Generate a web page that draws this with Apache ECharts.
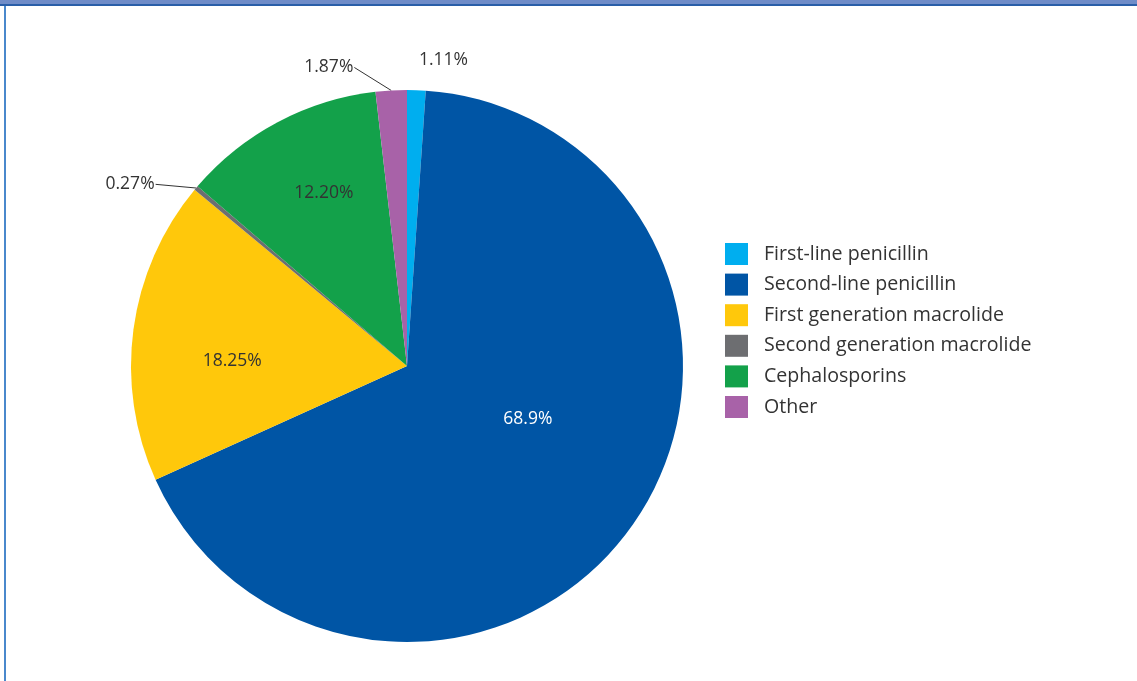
<!DOCTYPE html>
<html>
<head>
<meta charset="utf-8">
<script src="https://cdn.jsdelivr.net/npm/echarts@6/dist/echarts.min.js"></script>
<style>
  html, body { margin: 0; padding: 0; background: #ffffff; }
  #chart { width: 1137px; height: 681px; }
</style>
</head>
<body>
<div id="chart"></div>
<script>
// Antibiotic classes and their share of prescriptions (%)
const categories = [
  'First-line penicillin',
  'Second-line penicillin',
  'First generation macrolide',
  'Second generation macrolide',
  'Cephalosporins',
  'Other'
];
const shares = [1.11, 68.9, 18.25, 0.27, 12.20, 1.87];
const shareLabels = ['1.11%', '68.9%', '18.25%', '0.27%', '12.20%', '1.87%'];
const colors = ['#00aeef', '#0055a5', '#ffc80b', '#6d6e71', '#13a14a', '#a862a8'];

// where each label sits: inside the slice or outside with a leader line
const labelInside = [false, true, true, false, true, false];
const labelLineShown = [false, false, false, true, false, true];
const labelShift = [[-3, -15], [5, -27], [-35, 14], [-25, 6], [-17, -48], [-32, -8]];

const chart = echarts.init(document.getElementById('chart'));

const data = categories.map((name, i) => ({
  name: name,
  value: shares[i],
  itemStyle: { color: colors[i] },
  label: {
    position: labelInside[i] ? 'inside' : 'outside',
    color: i === 1 ? '#ffffff' : '#333333',
    formatter: shareLabels[i]
  },
  labelLine: { show: labelLineShown[i] }
}));

// Moves a label and, for outside labels, redraws its leader as a straight
// line from the slice rim to the near edge of the moved text.
function placeLabel(params) {
  const s = labelShift[params.dataIndex];
  const out = { dx: s[0], dy: s[1] };
  const pts = params.labelLinePoints;
  if (labelLineShown[params.dataIndex] && pts) {
    const r = params.labelRect;
    const rim = pts[0];
    const onLeft = (r.x + r.width / 2 + s[0]) < rim[0];
    const end = [
      onLeft ? r.x + r.width + s[0] + 1 : r.x + s[0] - 1,
      r.y + r.height / 2 + s[1]
    ];
    out.labelLinePoints = [rim, end, end];
  }
  return out;
}

chart.setOption({
  animation: false,
  backgroundColor: '#ffffff',
  graphic: [
    { type: 'rect', shape: { x: 0, y: 0, width: 1137, height: 4 }, style: { fill: '#6f8cc8' }, silent: true },
    { type: 'rect', shape: { x: 0, y: 4, width: 1137, height: 2 }, style: { fill: '#2a5ea8' }, silent: true },
    { type: 'rect', shape: { x: 4, y: 6, width: 2, height: 675 }, style: { fill: '#4a88cc' }, silent: true }
  ],
  legend: {
    orient: 'vertical',
    left: 720,
    top: 238,
    itemWidth: 23,
    itemHeight: 22,
    itemGap: 8.6,
    icon: 'rect',
    selectedMode: false,
    textStyle: {
      fontFamily: 'Open Sans',
      fontSize: 19.6,
      color: '#333333',
      padding: [0, 0, 0, 11]
    },
    data: categories
  },
  series: [{
    type: 'pie',
    center: [407, 366],
    radius: [0, 276],
    startAngle: 90,
    clockwise: true,
    avoidLabelOverlap: false,
    label: {
      show: true,
      fontFamily: 'Open Sans',
      fontSize: 17.5,
      color: '#333333'
    },
    labelLine: {
      show: true,
      length: 15,
      length2: 0,
      lineStyle: { color: '#333333', width: 1 }
    },
    labelLayout: placeLabel,
    itemStyle: { borderWidth: 0 },
    emphasis: { disabled: true },
    data: data
  }]
});
</script>
</body>
</html>
